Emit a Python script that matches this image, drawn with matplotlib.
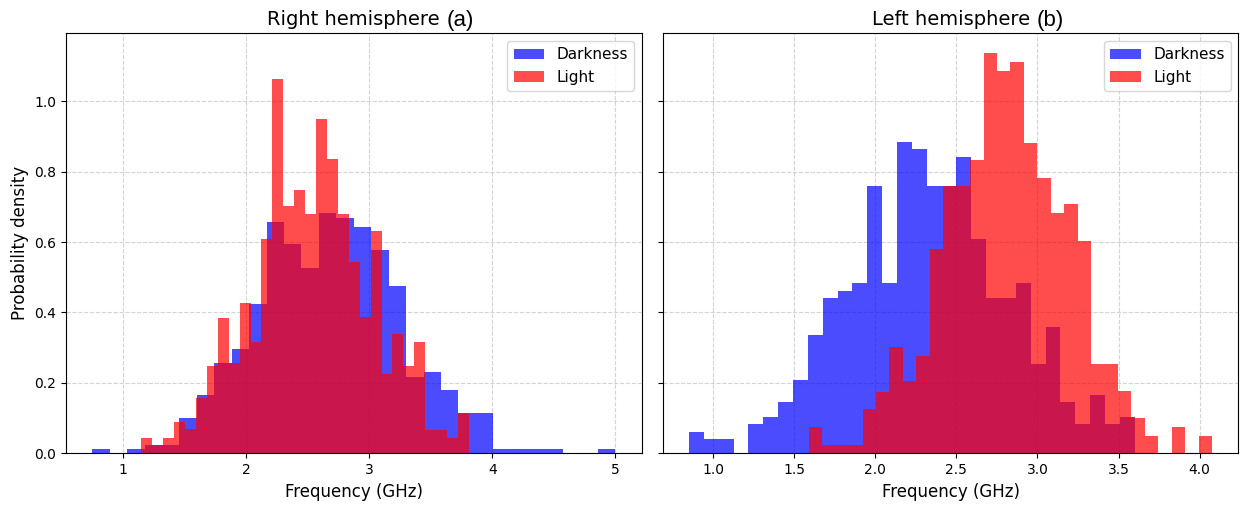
import numpy as np
import matplotlib.pyplot as plt

# Right hemisphere (a): histogram bins
right_dark_range = (0.75, 5.0)
right_dark = [0.012, 0.0, 0.012, 0.024, 0.024, 0.101, 0.166, 0.257, 0.295, 0.423,
              0.656, 0.595, 0.527, 0.683, 0.668, 0.644, 0.578, 0.475, 0.218, 0.231,
              0.179, 0.114, 0.114, 0.012, 0.012, 0.012, 0.012, 0.0, 0.0, 0.012]
right_light_range = (1.15, 3.81)
right_light = [0.044, 0.024, 0.044, 0.089, 0.068, 0.156, 0.248, 0.383, 0.257, 0.428,
               0.315, 0.609, 1.062, 0.703, 0.747, 0.679, 0.950, 0.836, 0.680, 0.543,
               0.386, 0.632, 0.226, 0.338, 0.248, 0.316, 0.066, 0.066, 0.043, 0.114]

# Left hemisphere (b)
left_dark_range = (0.852, 3.60)
left_dark = [0.061, 0.040, 0.040, 0.0, 0.082, 0.104, 0.147, 0.208, 0.336, 0.442,
             0.462, 0.485, 0.759, 0.485, 0.885, 0.864, 0.759, 0.759, 0.843, 0.608,
             0.442, 0.442, 0.485, 0.253, 0.358, 0.147, 0.082, 0.166, 0.082, 0.104]
left_light_range = (1.59, 4.077)
left_light = [0.076, 0.024, 0.024, 0.024, 0.126, 0.175, 0.303, 0.204, 0.276, 0.580,
              0.759, 0.759, 0.833, 1.136, 1.087, 1.112, 0.882, 0.783, 0.683, 0.707,
              0.604, 0.253, 0.253, 0.177, 0.101, 0.050, 0.0, 0.076, 0.0, 0.050]

titles = ["Right hemisphere", "Left hemisphere"]
tags = ["(a)", "(b)"]
xticks = [[1, 2, 3, 4, 5], [1.0, 1.5, 2.0, 2.5, 3.0, 3.5, 4.0]]


def draw_hist(ax, rng, heights, color, label):
    edges = np.linspace(rng[0], rng[1], len(heights) + 1)
    ax.hist(edges[:-1], bins=edges, weights=heights, color=color, alpha=0.7, label=label)


fig, axes = plt.subplots(1, 2, figsize=(12.6, 5.07), dpi=100, sharey=True)
fig.subplots_adjust(left=0.0524, right=0.9828, bottom=0.106, top=0.934, wspace=0.037)

data = [(right_dark_range, right_dark, right_light_range, right_light),
        (left_dark_range, left_dark, left_light_range, left_light)]

for i, ax in enumerate(axes):
    dr, dh, lr, lh = data[i]
    draw_hist(ax, dr, dh, "blue", "Darkness")
    draw_hist(ax, lr, lh, "red", "Light")
    ax.set_xticks(xticks[i])
    if i == 0:
        ax.set_xticklabels([str(t) for t in xticks[i]])
    ax.set_xlabel("Frequency (GHz)", fontsize=12)
    ax.grid(True, linestyle="--", alpha=0.55)
    ax.set_axisbelow(True)
    ax.legend(loc="upper right", fontsize=11)
    ax.tick_params(labelsize=10)
    ax.set_title(titles[i], fontsize=14)
    ax.annotate(tags[i], xy=(1, 0), xycoords=ax.title, xytext=(5, -1),
                textcoords="offset points", ha="left", va="bottom",
                family="Liberation Sans", fontsize=16)

axes[0].set_ylabel("Probability density", fontsize=12)

plt.savefig("out.png")
plt.close()
